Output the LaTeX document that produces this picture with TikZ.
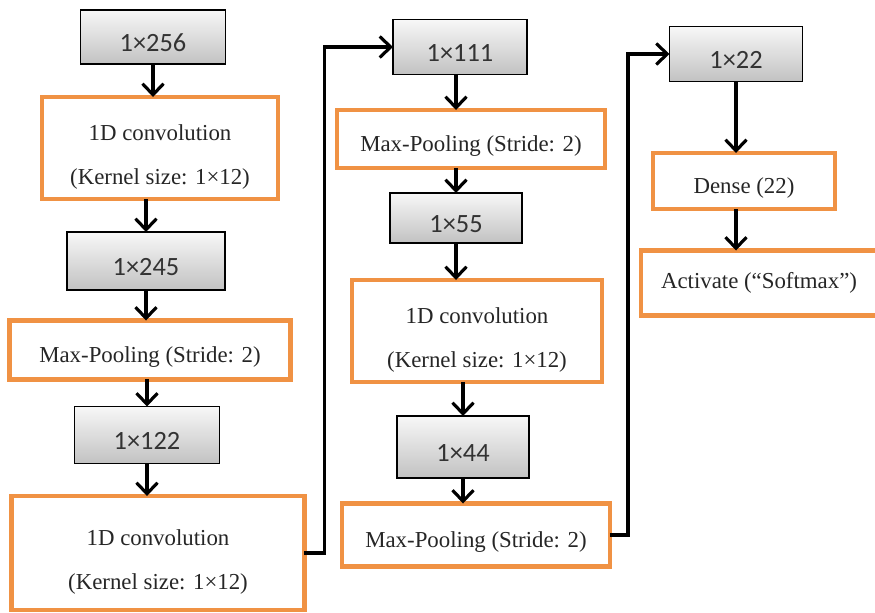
\documentclass[tikz,border=0pt]{standalone}
\usepackage{fontspec}
\setmainfont{Liberation Serif}
\newfontfamily\calfont{Carlito}
\usetikzlibrary{arrows.meta}
\definecolor{layerorange}{RGB}{240,146,68}
\newcommand{\liftline}{\rule{0pt}{19pt}}

\begin{document}
\begin{tikzpicture}[x=0.02cm,y=-0.02cm,inner sep=0pt,outer sep=0pt,
sizeblock/.style={draw,rectangle,line width=1.1pt,top color=gray!6,bottom color=gray!48,
  font=\calfont\fontsize{15}{18}\selectfont,text=black!80,
  execute at begin node={\rule{0pt}{16.5pt}}},
layerblock/.style={draw=layerorange,rectangle,line width=2.6pt,fill=white,align=center,
  font=\fontsize{13}{25}\selectfont,text=black!85},
lowered/.style={execute at begin node={\rule{0pt}{17pt}}},
flow/.style={-{Straight Barb[length=2.2mm,width=4.2mm]},line width=1.8pt}]

\useasboundingbox (0,0) rectangle (875,612);

% first column
\draw (153,37) node[sizeblock,minimum width=2.9cm,minimum height=1.08cm] (g256) {1×256};
\draw (160,148) node[layerblock,minimum width=4.72cm,minimum height=2.04cm] (conva) {\liftline 1D convolution\\(Kernel size: 1×12)};
\draw (146,261) node[sizeblock,minimum width=3.16cm,minimum height=1.16cm] (g245) {1×245};
\draw (150,350) node[layerblock,lowered,minimum width=5.62cm,minimum height=1.18cm] (poola) {Max-Pooling (Stride: 2)};
\draw (147,435) node[sizeblock,minimum width=2.9cm,minimum height=1.14cm] (g122) {1×122};
\draw (158,553) node[layerblock,minimum width=5.86cm,minimum height=2.28cm] (convb) {\liftline 1D convolution\\(Kernel size: 1×12)};

% second column
\draw (460,47) node[sizeblock,minimum width=2.68cm,minimum height=1.1cm] (g111) {1×111};
\draw (471,139) node[layerblock,lowered,minimum width=5.36cm,minimum height=1.16cm] (poolb) {Max-Pooling (Stride: 2)};
\draw (456,218) node[sizeblock,minimum width=2.64cm,minimum height=1cm] (g55) {1×55};
\draw (477,331) node[layerblock,minimum width=5cm,minimum height=2.04cm] (convc) {\liftline 1D convolution\\(Kernel size: 1×12)};
\draw (463,447) node[sizeblock,minimum width=2.64cm,minimum height=1.24cm] (g44) {1×44};
\draw (476,535) node[layerblock,lowered,minimum width=5.36cm,minimum height=1.26cm] (poolc) {Max-Pooling (Stride: 2)};

% third column
\draw (736,54) node[sizeblock,minimum width=2.66cm,minimum height=1.1cm] (g22) {1×22};
\draw (744,181) node[layerblock,lowered,minimum width=3.64cm,minimum height=1.12cm] (dense) {Dense (22)};
\draw (759,283) node[layerblock,minimum width=4.72cm,minimum height=1.3cm] (act) {Activate (“Softmax”)};

% arrows
\draw[flow] (g256.south) -- (g256.south |- conva.north);
\draw[flow] (conva.south -| g245) -- (g245.north);
\draw[flow] (g245.south) -- (g245.south |- poola.north);
\draw[flow] (poola.south -| g122) -- (g122.north);
\draw[flow] (g122.south) -- (g122.south |- convb.north);
\draw[flow] (convb.east) -- ++(20,0) |- (g111.west);
\draw[flow] (g111.south -| g55) -- (g55 |- poolb.north);
\draw[flow] (poolb.south -| g55) -- (g55.north);
\draw[flow] (g55.south) -- (g55.south |- convc.north);
\draw[flow] (convc.south -| g44) -- (g44.north);
\draw[flow] (g44.south) -- (g44.south |- poolc.north);
\draw[flow] (poolc.east) -- ++(18,0) |- (g22.west);
\draw[flow] (g22.south) -- (g22.south |- dense.north);
\draw[flow] (dense.south -| g22) -- (g22 |- act.north);
\end{tikzpicture}
\end{document}
